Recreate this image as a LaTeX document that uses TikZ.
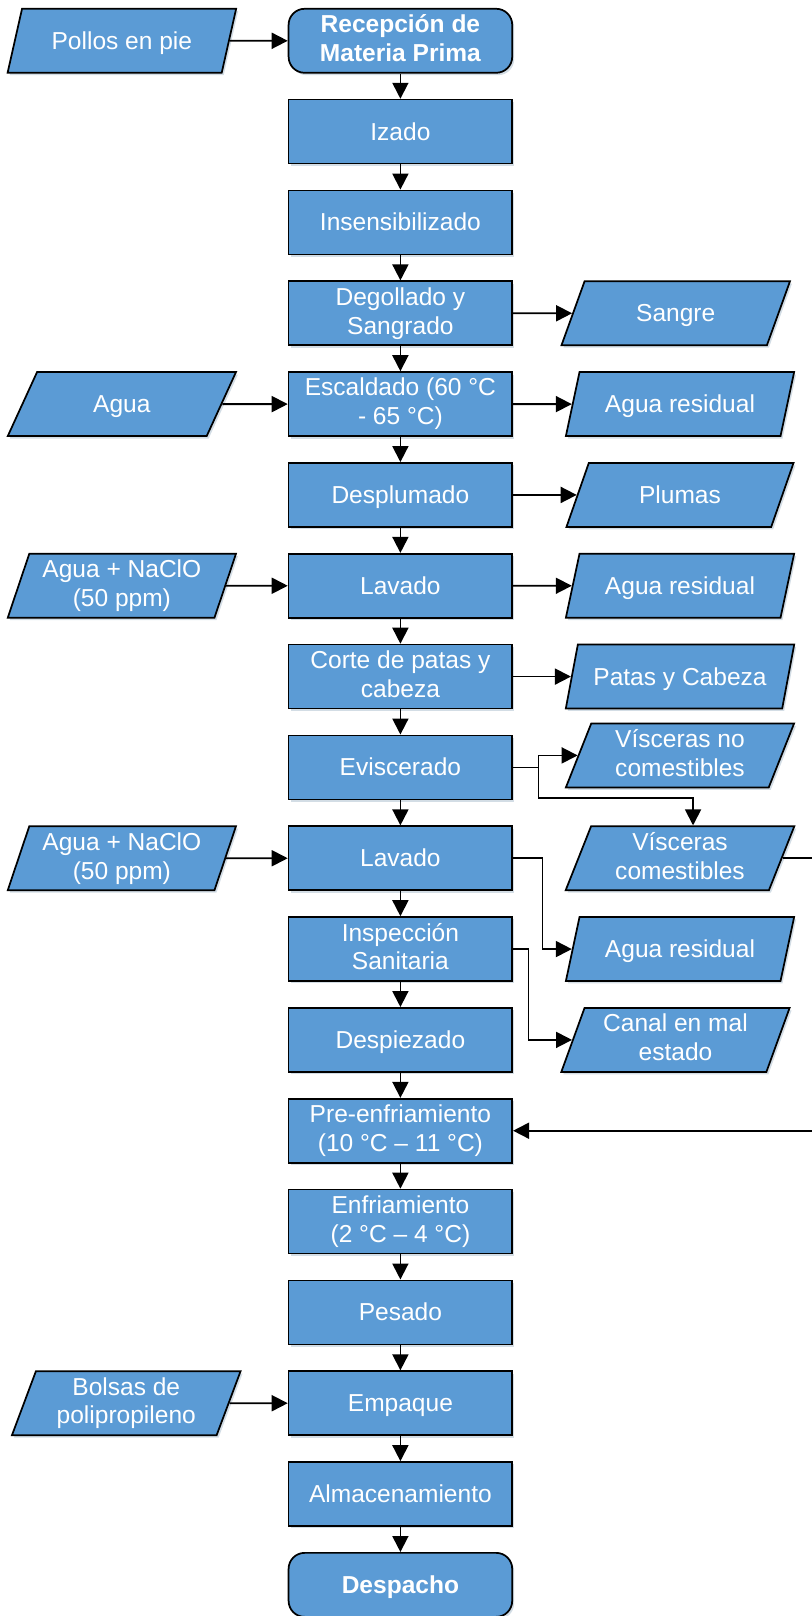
\documentclass[tikz,border=0pt]{standalone}
\usepackage{fontspec}
\setmainfont{Liberation Sans}
\usetikzlibrary{shapes.geometric, arrows.meta, positioning, calc, shadows}
\definecolor{procblue}{RGB}{91,155,213}

\begin{document}
\begin{tikzpicture}[
    node distance=18.82pt,
    base/.style={draw, line width=1.3pt, fill=procblue, text=white, align=center,
        font=\fontsize{18.4}{21.7}\selectfont,
        execute at begin node={\rule[-0.212em]{0pt}{1.117em}},
        execute at end node={\rule[-0.212em]{0pt}{1.117em}},
        drop shadow={shadow xshift=1.5pt, shadow yshift=-1.8pt, fill=procblue!50!gray, opacity=0.3}},
    proc/.style={base, rectangle, minimum width=167.7pt, minimum height=48pt, inner sep=2pt},
    term/.style={proc, rounded corners=12pt, font=\bfseries\fontsize{18.4}{21.7}\selectfont},
    io/.style={base, trapezium, trapezium left angle=71, trapezium right angle=109,
        trapezium stretches=true, minimum width=171.5pt, minimum height=48pt, inner sep=1pt},
    arr/.style={-{Triangle[length=12pt, width=12pt]}, line width=1.35pt}
]
    \useasboundingbox (0,0) rectangle (609pt,-1212pt);
    \coordinate (lcol) at (91.4pt,0);
    \coordinate (rcol) at (510pt,0);
    \coordinate (redge) at (620pt,0);
    % main line
    \node[term] (rec) at (300.3pt,-30.6pt) {Recepción de\\Materia Prima};
    \node[proc, below=of rec] (iza) {Izado};
    \node[proc, below=of iza] (ins) {Insensibilizado};
    \node[proc, below=of ins] (deg) {Degollado y\\Sangrado};
    \node[proc, below=of deg] (esc) {Escaldado (60 °C\\- 65 °C)};
    \node[proc, below=of esc] (des) {Desplumado};
    \node[proc, below=of des] (lav1) {Lavado};
    \node[proc, below=of lav1] (cor) {Corte de patas y\\cabeza};
    \node[proc, below=of cor] (evi) {Eviscerado};
    \node[proc, below=of evi] (lav2) {Lavado};
    \node[proc, below=of lav2] (insp) {Inspección\\Sanitaria};
    \node[proc, below=of insp] (dpz) {Despiezado};
    \node[proc, below=of dpz] (pre) {Pre-enfriamiento\\(10 °C – 11 °C)};
    \node[proc, below=of pre] (enf) {Enfriamiento\\(2 °C – 4 °C)};
    \node[proc, below=of enf] (pes) {Pesado};
    \node[proc, below=of pes] (emp) {Empaque};
    \node[proc, below=of emp] (alm) {Almacenamiento};
    \node[term, below=of alm] (dsp) {Despacho};
    % inputs
    \node[io] (pol) at (rec -| lcol) {Pollos en pie};
    \node[io] (agu) at (esc -| lcol) {Agua};
    \node[io] (cl1) at (lav1 -| lcol) {Agua + NaClO\\(50 ppm)};
    \node[io] (cl2) at (lav2 -| lcol) {Agua + NaClO\\(50 ppm)};
    \node[io, xshift=3.3pt] (bol) at (emp -| lcol) {Bolsas de\\polipropileno};
    % outputs
    \node[io, xshift=-3.2pt] (san) at (deg -| rcol) {Sangre};
    \node[io] (ar1) at (esc -| rcol) {Agua residual};
    \node[io] (plu) at (des -| rcol) {Plumas};
    \node[io] (ar2) at (lav1 -| rcol) {Agua residual};
    \node[io] (pat) at (cor -| rcol) {Patas y Cabeza};
    \node[io, yshift=9pt] (vno) at (evi -| rcol) {Vísceras no\\comestibles};
    \node[io] (vco) at (lav2 -| rcol) {Vísceras\\comestibles};
    \node[io] (ar3) at (insp -| rcol) {Agua residual};
    \node[io, xshift=-3.4pt] (can) at (dpz -| rcol) {Canal en mal\\estado};
    \coordinate (vtop) at ($(vco.top left corner)!.5!(vco.top right corner)$);
    \coordinate[right=19pt of evi.east] (jev);
    \coordinate[right=22pt of lav2.east] (jlv);
    \coordinate[right=11.6pt of insp.east] (jin);
    % arrows
    \draw[arr] (rec) -- (iza);
    \draw[arr] (iza) -- (ins);
    \draw[arr] (ins) -- (deg);
    \draw[arr] (deg) -- (esc);
    \draw[arr] (esc) -- (des);
    \draw[arr] (des) -- (lav1);
    \draw[arr] (lav1) -- (cor);
    \draw[arr] (cor) -- (evi);
    \draw[arr] (evi) -- (lav2);
    \draw[arr] (lav2) -- (insp);
    \draw[arr] (insp) -- (dpz);
    \draw[arr] (dpz) -- (pre);
    \draw[arr] (pre) -- (enf);
    \draw[arr] (enf) -- (pes);
    \draw[arr] (pes) -- (emp);
    \draw[arr] (emp) -- (alm);
    \draw[arr] (alm) -- (dsp);
    \draw[arr] (pol.east) -- (rec.west);
    \draw[arr] (agu.east) -- (esc.west);
    \draw[arr] (cl1.east) -- (lav1.west);
    \draw[arr] (cl2.east) -- (lav2.west);
    \draw[arr] (bol.east) -- (emp.west);
    \draw[arr] (deg.east) -- (san.west);
    \draw[arr] (esc.east) -- (ar1.west);
    \draw[arr] (des.east) -- (plu.west);
    \draw[arr] (lav1.east) -- (ar2.west);
    \draw[arr] (cor.east) -- (pat.west);
    \draw[line width=1.35pt] (evi.east) -- (jev);
    \draw[arr] (jev) |- (vno.west);
    \draw[arr] (jev) |- ([yshift=20.5pt]vtop) -- (vtop);
    \draw[arr] (lav2.east) -- (jlv) |- (ar3.west);
    \draw[arr] (insp.east) -- (jin) |- (can.west);
    \draw[arr] (vco.east) -- (vco.east -| redge) |- (pre.east);
\end{tikzpicture}
\end{document}
